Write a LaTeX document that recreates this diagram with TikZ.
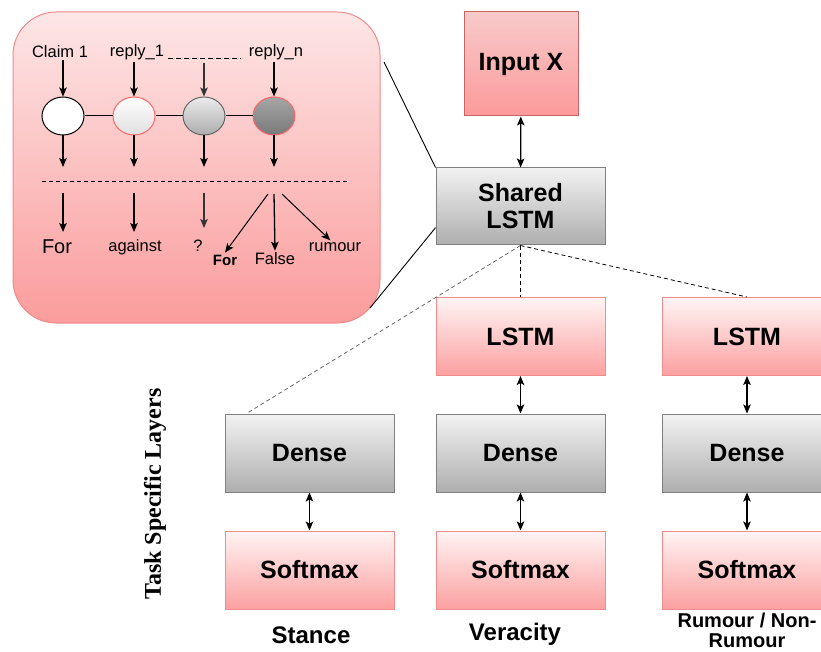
\documentclass[tikz,border=0pt]{standalone}
\usepackage{fontspec}
\setmainfont{Liberation Sans}
\newfontfamily\serifbf{Liberation Serif}
\usepackage{tikz}
\usetikzlibrary{arrows, arrows.meta, shapes.geometric, positioning}

\definecolor{pinktop}{HTML}{FFF4F4}
\definecolor{pinkbot}{HTML}{FCA0A0}
\definecolor{pinkedge}{HTML}{F08C8C}
\definecolor{inputtop}{HTML}{F8CACA}
\definecolor{inputbot}{HTML}{FC9A9A}
\definecolor{inputedge}{HTML}{C86464}
\definecolor{graytop}{HTML}{F2F2F2}
\definecolor{graybot}{HTML}{AEAEAE}
\definecolor{grayedge}{HTML}{808080}
\definecolor{insettop}{HTML}{FDE6E6}
\definecolor{insetbot}{HTML}{FB9C9C}
\definecolor{insetedge}{HTML}{F08A8A}

\tikzset{
  box/.style={draw, line width=1pt, minimum width=169, minimum height=78, align=center,
    font=\bfseries\fontsize{25}{27}\selectfont},
  pinkbox/.style={box, draw=pinkedge, top color=pinktop, bottom color=pinkbot},
  graybox/.style={box, draw=grayedge, top color=graytop, bottom color=graybot},
  tasklabel/.style={align=center, font=\bfseries\fontsize{24}{26}\selectfont},
  unit/.style={ellipse, minimum width=42, minimum height=38, inner sep=0pt, line width=1pt},
  small/.style={font=\fontsize{16.5}{19}\selectfont, inner sep=2pt},
  link/.style={<->, line width=1.2pt},
  hint/.style={->, line width=1.3pt}
}

\begin{document}
\begin{tikzpicture}[x=1pt,y=-1pt, >={Stealth[length=9pt,width=7.5pt,inset=2pt]}]
\useasboundingbox (0,0) rectangle (821,652);

% main network
\node[box, draw=inputedge, top color=inputtop, bottom color=inputbot,
  minimum width=114, minimum height=104] (in) at (521,64) {Input X};
\node[graybox, minimum height=77] (shared) at (520.5,206.5) {Shared\\LSTM};

\node[pinkbox] (lstm2) at (520.5,336.5) {LSTM};
\node[pinkbox] (lstm3) at (747,336.5) {LSTM};
\foreach \n/\x in {1/309.5, 2/520.5, 3/747} {
  \node[graybox] (dense\n) at (\x,453) {Dense};
  \node[pinkbox] (soft\n) at (\x,570) {Softmax};
  \draw[link] (dense\n) -- (soft\n);
}
\draw[link] (in) -- (shared);
\draw[link] (lstm2) -- (dense2);
\draw[link] (lstm3) -- (dense3);

\draw[gray!80!black, line width=0.8pt, dash pattern=on 4pt off 3pt]
  (shared.south) -- ([xshift=22]dense1.north west);
\draw[line width=0.8pt, dash pattern=on 4pt off 3pt] (shared.south) -- (lstm2.north);
\draw[line width=0.8pt, dash pattern=on 4pt off 3pt] (shared.south) -- (lstm3.north);

\node[tasklabel] (stance) at (311,635) {Stance};
\node[tasklabel] (veracity) at (515,634) {Veracity};
\node[tasklabel, font=\bfseries\fontsize{20}{20}\selectfont] (rumour) at (747,630) {Rumour / Non-\\Rumour};

\node[rotate=90, font=\serifbf\bfseries\fontsize{24}{26}\selectfont] (task) at (155,494) {Task Specific Layers};

% inset
\node[draw=insetedge, line width=1pt, top color=insettop, bottom color=insetbot,
  rounded corners=43pt, minimum width=367, minimum height=311] (inset) at (196.5,167.5) {};
\coordinate (zt) at (384,62);
\coordinate (zb) at (370,308);
\draw[line width=0.9pt] (zt) -- (shared.north west);
\draw[line width=0.9pt] (zb) -- (shared.194);

\node[small] (lab1) at (60,52) {Claim 1};
\node[small] (lab2) at (137,52) {reply\_1};
\node[small] (lab4) at (276,52) {reply\_n};
\coordinate (d1) at (168,58);
\coordinate (d2) at (241,58);
\draw[line width=0.9pt, dash pattern=on 5pt off 3pt] (d1) -- (d2);
\coordinate (lab3) at (204,63);

\node[unit, draw=black, fill=white] (n1) at (63,116) {};
\node[unit, draw=red!60, top color=white, bottom color=gray!25] (n2) at (134,116) {};
\node[unit, draw=gray!80!black, top color=gray!15, bottom color=gray!65] (n3) at (204,116) {};
\node[unit, draw=red!60, top color=gray!70, bottom color=gray!95!black] (n4) at (274,116) {};
\foreach \a/\b in {1/2, 2/3, 3/4}
  \draw[line width=1pt] (n\a.east) -- (n\b.west);

\foreach \i in {1,2,4}
  \draw[hint] (lab\i.south -| n\i) -- (n\i.north);
\draw[hint, gray!40!black] (lab3) -- (n3.north);

\foreach \i in {1,...,4} {
  \coordinate (o\i) at (n\i |- 0,167);
  \draw[hint] (n\i.south) -- (o\i);
}
\coordinate (e1) at (42,181);
\coordinate (e2) at (348,181);
\draw[line width=0.8pt, dash pattern=on 4pt off 3pt] (e1) -- (e2);

\node[small, font=\fontsize{20}{23}\selectfont] (out1) at (57,247) {For};
\node[small] (out2) at (135,247) {against};
\node[small] (out3) at (198,246) {?};
\node[small, font=\bfseries\fontsize{15}{18}\selectfont] (forb) at (225,260) {For};
\node[small] (false) at (275,259) {False};
\node[small] (rum) at (335,247) {rumour};

\foreach \i in {1,2,3}
  \coordinate (s\i) at (n\i |- 0,193);
\draw[hint] (s1) -- (s1 |- 0,232);
\draw[hint] (s2) -- (s2 |- 0,232);
\draw[hint, gray!40!black] (s3) -- (s3 |- 0,228);
\coordinate (s4) at (274,194);
\draw[->, line width=1pt] ([xshift=-6]s4) -- (forb.north);
\draw[hint] (s4) -- (false.north);
\draw[->, line width=1pt] ([xshift=8]s4) -- (rum.125);
\end{tikzpicture}
\end{document}
